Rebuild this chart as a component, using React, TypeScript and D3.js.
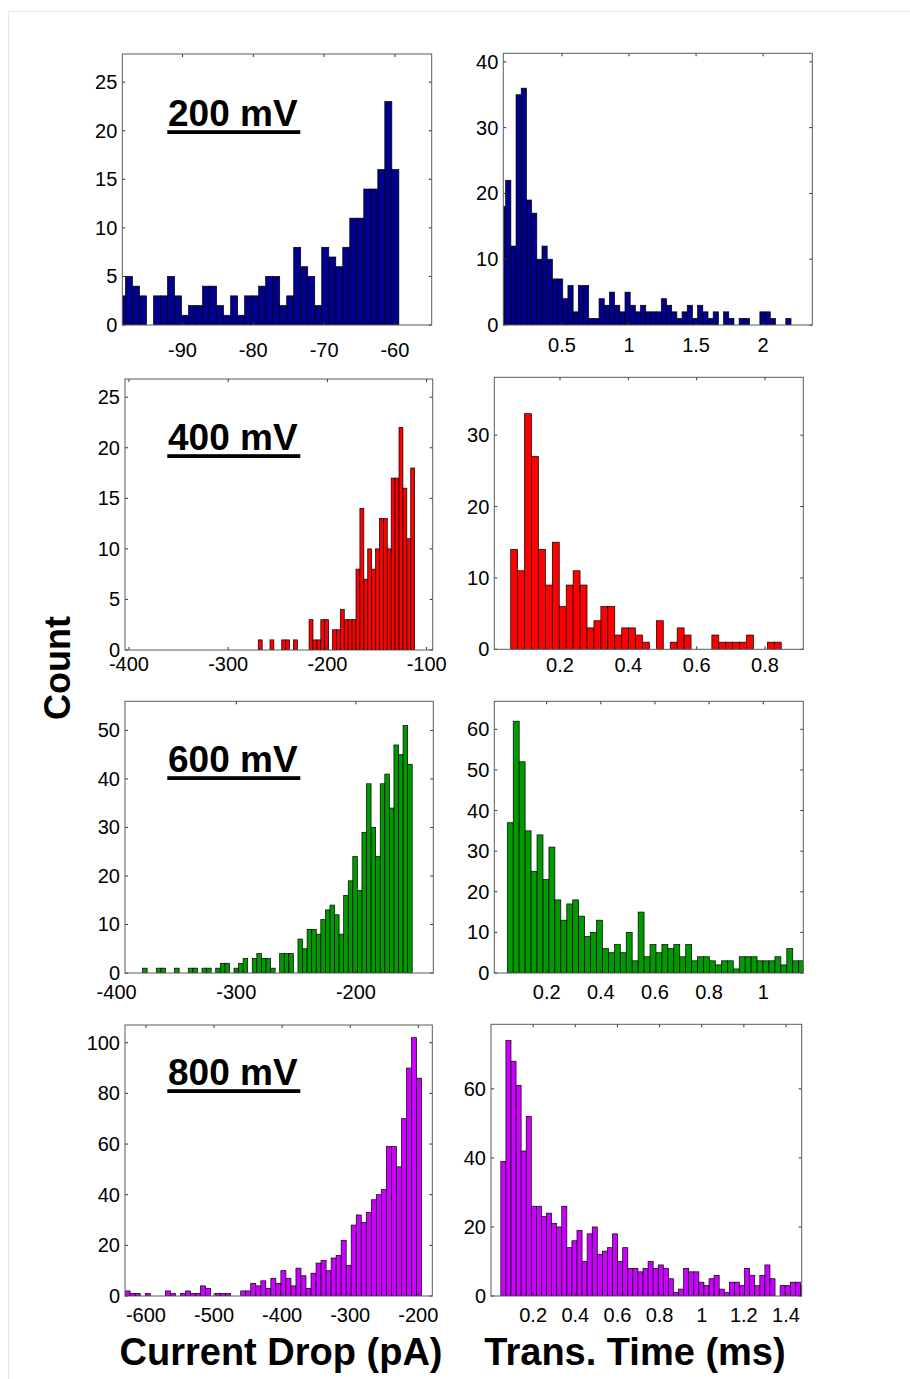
import * as d3 from 'd3'

const FONT = '"Liberation Sans", Arial, Helvetica, sans-serif'

// voltage labels and bar colours per row
const voltages = ['200 mV', '400 mV', '600 mV', '800 mV']
const barColors = ['#00008c', '#ff0000', '#009a00', '#cc00ff']

// current drop histograms (pA), left column
const drop200 = [3, 5, 4, 3, 0, 3, 3, 5, 3, 1, 2, 2, 4, 4, 2, 1, 3, 1, 3, 3, 4, 5, 5, 2, 3, 8, 6, 5, 2, 8, 7, 6, 8, 11, 11, 14, 14, 16, 23, 16]
const drop400 = [1, 0, 0, 1, 0, 0, 1, 1, 0, 1, 0, 0, 0, 3, 1, 1, 3, 3, 0, 2, 2, 4, 3, 3, 3, 8, 14, 7, 10, 8, 10, 13, 13, 10, 17, 17, 22, 16, 11, 18]
const drop600 = [1, 0, 0, 1, 1, 0, 0, 1, 0, 0, 1, 1, 0, 1, 1, 0, 1, 2, 2, 0, 1, 2, 3, 0, 3, 4, 3, 3, 1, 0, 4, 4, 4, 0, 7, 5, 9, 9, 8, 11, 13, 14, 12, 8, 16, 19, 24, 17, 29, 39, 30, 24, 39, 41, 34, 47, 45, 51, 43]
const drop800 = [2, 1, 1, 0, 1, 0, 0, 0, 2, 1, 0, 1, 2, 1, 1, 4, 3, 0, 1, 1, 1, 0, 0, 2, 2, 5, 4, 6, 3, 7, 5, 10, 7, 4, 11, 8, 3, 9, 13, 14, 10, 15, 16, 22, 12, 28, 32, 29, 33, 38, 40, 42, 59, 59, 51, 70, 90, 102, 86]

// translocation time histograms (ms), right column
const time200 = [18, 22, 12, 35, 36, 19, 17, 10, 12, 10, 7, 7, 4, 6, 2, 6, 6, 1, 1, 4, 3, 5, 3, 2, 5, 3, 2, 3, 2, 2, 2, 4, 3, 2, 1, 2, 3, 1, 3, 2, 1, 2, 0, 2, 1, 0, 1, 1, 0, 0, 2, 2, 1, 0, 0, 1]
const time400 = [14, 11, 33, 27, 14, 9, 15, 6, 9, 11, 9, 3, 4, 6, 6, 2, 3, 3, 2, 1, 0, 4, 0, 1, 3, 2, 0, 0, 0, 2, 1, 1, 1, 1, 2, 0, 0, 1, 1]
const time600 = [37, 62, 52, 35, 25, 34, 23, 31, 18, 13, 17, 18, 14, 9, 10, 13, 6, 5, 7, 5, 10, 3, 15, 4, 7, 5, 7, 6, 7, 4, 7, 3, 4, 4, 3, 2, 3, 3, 1, 4, 4, 4, 3, 3, 3, 4, 2, 6, 3, 3]
const time800 = [39, 74, 68, 61, 42, 52, 26, 26, 23, 24, 21, 20, 26, 14, 16, 19, 10, 18, 20, 12, 13, 14, 18, 10, 14, 8, 8, 7, 8, 10, 8, 9, 8, 5, 1, 2, 8, 7, 7, 4, 3, 5, 6, 2, 1, 4, 4, 3, 8, 6, 3, 6, 9, 5, 0, 3, 3, 4, 4, 3]

// bin edges
const dropBinStart = [-99.04, -269.7, -378.3, -630.6]
const dropBinWidth = [0.99, 3.94, 3.82, 7.38]
const timeBinStart = [0.041, 0.0557, 0.0545, 0.0466]
const timeBinWidth = [0.0387, 0.0203, 0.02197, 0.0241]

// axis limits
const dropXLim = [[-98.5, -54.8], [-404, -93.9], [-393, -135.3], [-630.8, -179.4]]
const timeXLim = [[0.062, 2.367], [0.0077, 0.912], [0.0065, 1.148], [0, 1.4745]]
const dropYMax = [27.9, 26.8, 56, 107]
const timeYMax = [41.3, 38.1, 66.9, 78.7]

// tick labels
const dropXTicks = [[-90, -80, -70, -60], [-400, -300, -200, -100], [-400, -300, -200], [-600, -500, -400, -300, -200]]
const timeXTicks = [[0.5, 1, 1.5, 2], [0.2, 0.4, 0.6, 0.8], [0.2, 0.4, 0.6, 0.8, 1], [0.2, 0.4, 0.6, 0.8, 1, 1.2, 1.4]]
const dropYTicks = [[0, 5, 10, 15, 20, 25], [0, 5, 10, 15, 20, 25], [0, 10, 20, 30, 40, 50], [0, 20, 40, 60, 80, 100]]
const timeYTicks = [[0, 10, 20, 30, 40], [0, 10, 20, 30], [0, 10, 20, 30, 40, 50, 60], [0, 20, 40, 60]]

const dropCounts = [drop200, drop400, drop600, drop800]
const timeCounts = [time200, time400, time600, time800]

// page layout of the axes boxes
const LEFT_BOX = [
  { left: 122.3, right: 431.7, top: 54, bottom: 325, labelGap: 25 },
  { left: 125, right: 432.7, top: 379, bottom: 650, labelGap: 14 },
  { left: 125, right: 433.3, top: 701.3, bottom: 973, labelGap: 19 },
  { left: 125, right: 432.3, top: 1025, bottom: 1296, labelGap: 19 },
]
const RIGHT_BOX = [
  { left: 503.3, right: 812.3, top: 53.3, bottom: 325, labelGap: 20 },
  { left: 494.3, right: 803.3, top: 377.3, bottom: 649.3, labelGap: 16 },
  { left: 494.3, right: 803.3, top: 701.3, bottom: 973, labelGap: 19 },
  { left: 491, right: 801.7, top: 1024.3, bottom: 1296, labelGap: 19 },
]
const TITLE_BASELINE = [126, 450, 772, 1085]
const TICK = 3

function Histogram({ id, box, counts, binStart, binWidth, xLim, yMax, xTicks, yTicks, color }) {
  const x = d3.scaleLinear().domain(xLim).range([box.left, box.right])
  const y = d3.scaleLinear().domain([0, yMax]).range([box.bottom, box.top])
  const bins = counts.map((c, i) => ({ x0: binStart + i * binWidth, x1: binStart + (i + 1) * binWidth, c }))
  const inX = (t) => t >= xLim[0] && t <= xLim[1]

  return (
    <g>
      <clipPath id={id}>
        <rect x={box.left} y={box.top} width={box.right - box.left} height={box.bottom - box.top} />
      </clipPath>
      <g clipPath={`url(#${id})`}>
        {bins.filter((b) => b.c > 0).map((b, i) => (
          <rect key={i}
            x={x(b.x0)} width={x(b.x1) - x(b.x0)}
            y={y(b.c)} height={y(0) - y(b.c)}
            fill={color} stroke="#000" strokeWidth={0.7} />
        ))}
      </g>
      {/* ticks inside on all four sides */}
      {xTicks.filter(inX).map((t) => (
        <g key={`xt${t}`} stroke="#333" strokeWidth={1}>
          <line x1={x(t)} x2={x(t)} y1={box.bottom} y2={box.bottom - TICK} />
          <line x1={x(t)} x2={x(t)} y1={box.top} y2={box.top + TICK} />
        </g>
      ))}
      {yTicks.map((t) => (
        <g key={`yt${t}`} stroke="#333" strokeWidth={1}>
          <line x1={box.left} x2={box.left + TICK} y1={y(t)} y2={y(t)} />
          <line x1={box.right} x2={box.right - TICK} y1={y(t)} y2={y(t)} />
        </g>
      ))}
      <rect x={box.left} y={box.top} width={box.right - box.left} height={box.bottom - box.top}
        fill="none" stroke="#5a5a5a" strokeWidth={1} />
      {xTicks.map((t) => (
        <text key={`xl${t}`} x={x(t)} y={box.bottom + box.labelGap} textAnchor="middle"
          dominantBaseline="central" fontSize={20} fill="#000">{String(t)}</text>
      ))}
      {yTicks.map((t) => (
        <text key={`yl${t}`} x={box.left - 5} y={y(t)} textAnchor="end"
          dominantBaseline="central" fontSize={20} fill="#000">{String(t)}</text>
      ))}
    </g>
  )
}

export default function App() {
  return (
    <div style={{ position: 'absolute', left: 0, top: 0, width: 910, height: 1379, background: '#fff' }}>
      <svg width={910} height={1379} style={{ display: 'block', fontFamily: FONT }}>
        <rect x={8.5} y={11.5} width={1000} height={1500} fill="none" stroke="#e8e8e8" />
        {voltages.map((v, r) => (
          <g key={v}>
            <Histogram id={`drop${r}`} box={LEFT_BOX[r]} counts={dropCounts[r]}
              binStart={dropBinStart[r]} binWidth={dropBinWidth[r]} xLim={dropXLim[r]}
              yMax={dropYMax[r]} xTicks={dropXTicks[r]} yTicks={dropYTicks[r]} color={barColors[r]} />
            <Histogram id={`time${r}`} box={RIGHT_BOX[r]} counts={timeCounts[r]}
              binStart={timeBinStart[r]} binWidth={timeBinWidth[r]} xLim={timeXLim[r]}
              yMax={timeYMax[r]} xTicks={timeXTicks[r]} yTicks={timeYTicks[r]} color={barColors[r]} />
            <text x={168} y={TITLE_BASELINE[r]} fontSize={37} fontWeight="bold" fill="#000">{v}</text>
            <rect x={167.3} y={TITLE_BASELINE[r] + 4.2} width={133} height={3.8} fill="#000" />
          </g>
        ))}
        <text transform="translate(57,668) rotate(-90)" textAnchor="middle" dominantBaseline="central"
          fontSize={36} fontWeight="bold" fill="#000">Count</text>
        <text x={281} y={1365} textAnchor="middle" fontSize={38} fontWeight="bold" fill="#000">Current Drop (pA)</text>
        <text x={635} y={1365} textAnchor="middle" fontSize={38} fontWeight="bold" fill="#000">Trans. Time (ms)</text>
      </svg>
    </div>
  )
}
